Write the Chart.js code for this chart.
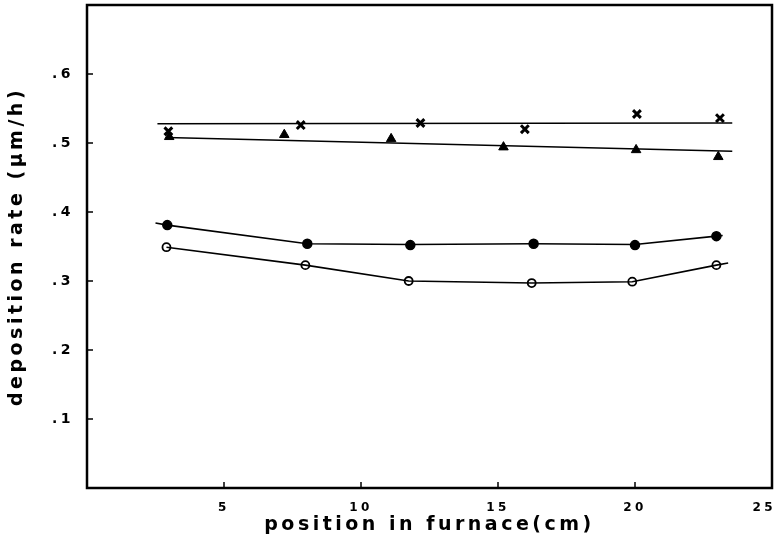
<!DOCTYPE html>
<html>
<head>
<meta charset="utf-8">
<script src="https://cdn.jsdelivr.net/npm/chart.js@4/dist/chart.umd.min.js"></script>
<style>
  html, body { margin: 0; padding: 0; background: #fff; }
  #wrap { width: 778px; height: 541px; }
</style>
</head>
<body>
<div id="wrap"><canvas id="grafico"></canvas></div>
<script>
// ticks
const xTicks = [5, 10, 15, 20, 25];
const yTicks = [0.1, 0.2, 0.3, 0.4, 0.5, 0.6];

// measured points (position cm, rate um/h)
const crossPts = [[2.97, 0.517], [7.8, 0.526], [12.17, 0.529], [15.98, 0.520], [20.07, 0.542], [23.1, 0.536]];
const triPts = [[3.0, 0.509], [7.2, 0.512], [11.1, 0.506], [15.2, 0.494], [20.04, 0.490], [23.04, 0.480]];
const dotPts = [[2.93, 0.381], [8.04, 0.354], [11.8, 0.352], [16.3, 0.354], [20.0, 0.352], [22.97, 0.365]];
const ringPts = [[2.9, 0.349], [7.97, 0.323], [11.74, 0.300], [16.23, 0.297], [19.9, 0.299], [22.97, 0.323]];

// drawn curves
const crossFit = [[2.57, 0.528], [23.55, 0.529]];
const triFit = [[2.9, 0.508], [23.55, 0.488]];
const dotCurve = [[2.5, 0.384], [2.93, 0.381], [8.04, 0.354], [11.8, 0.353], [16.3, 0.354], [20.0, 0.353], [22.97, 0.365], [23.2, 0.366]];
const ringCurve = [[2.9, 0.349], [7.97, 0.323], [11.74, 0.300], [16.23, 0.297], [19.9, 0.299], [22.97, 0.323], [23.4, 0.326]];

const FONT = 'DejaVu Sans';
const ESPACIO = '3.5px';

function xy(arr) {
  return arr.map(p => ({x: p[0], y: p[1]}));
}

function linea(arr) {
  return {
    type: 'line',
    data: xy(arr),
    borderColor: '#000',
    borderWidth: 1.6,
    pointRadius: 0,
    fill: false,
    tension: 0
  };
}

function puntos(arr, estilo, radio, relleno, borde) {
  return {
    type: 'scatter',
    data: xy(arr),
    pointStyle: estilo,
    pointRadius: radio,
    pointBackgroundColor: relleno,
    pointBorderColor: '#000',
    pointBorderWidth: borde
  };
}

// letter spacing for the wide lettering (canvas state is reset on resize)
const espaciado = {
  id: 'espaciado',
  beforeLayout(chart) { chart.ctx.letterSpacing = ESPACIO; },
  beforeDraw(chart) { chart.ctx.letterSpacing = ESPACIO; }
};

// caja y marcas hacia adentro
const marco = {
  id: 'marco',
  afterDraw(chart) {
    const ctx = chart.ctx;
    const a = chart.chartArea;
    const sx = chart.scales.x;
    const sy = chart.scales.y;
    ctx.save();
    ctx.strokeStyle = '#000';
    ctx.lineWidth = 2.5;
    ctx.strokeRect(a.left, a.top, a.right - a.left, a.bottom - a.top);
    ctx.lineWidth = 1.5;
    ctx.beginPath();
    xTicks.forEach(v => {
      if (v >= 25) return;
      const px = sx.getPixelForValue(v);
      ctx.moveTo(px, a.bottom);
      ctx.lineTo(px, a.bottom - 6);
    });
    yTicks.forEach(v => {
      const py = sy.getPixelForValue(v);
      ctx.moveTo(a.left, py);
      ctx.lineTo(a.left + 6, py);
    });
    ctx.stroke();
    ctx.restore();
  }
};

const ctx = document.getElementById('grafico').getContext('2d');

new Chart(ctx, {
  data: {
    datasets: [
      linea(crossFit),
      linea(triFit),
      linea(dotCurve),
      linea(ringCurve),
      puntos(crossPts, 'crossRot', 5.5, '#000', 3),
      puntos(triPts, 'triangle', 5.5, '#000', 1),
      puntos(dotPts, 'circle', 4.5, '#000', 1.5),
      puntos(ringPts, 'circle', 4, '#fff', 1.8)
    ]
  },
  options: {
    responsive: true,
    maintainAspectRatio: false,
    animation: false,
    events: [],
    layout: {
      autoPadding: false,
      padding: {top: 5, right: 6, left: 0, bottom: 0}
    },
    plugins: {
      legend: {display: false},
      tooltip: {enabled: false}
    },
    scales: {
      x: {
        type: 'linear',
        min: 0,
        max: 25,
        afterBuildTicks: s => { s.ticks = xTicks.map(v => ({value: v})); },
        afterFit: s => {
          s.height = 53;
          s.paddingLeft = 0;
          s.paddingRight = 0;
        },
        grid: {display: false, drawTicks: false},
        border: {display: false},
        ticks: {
          color: '#000',
          padding: 13,
          maxRotation: 0,
          font: {family: FONT, weight: 'bold', size: 12},
          // el 25 queda dentro del borde derecho
          callback: v => v === 25 ? '25  ' : String(v)
        },
        title: {
          display: true,
          text: 'position in furnace(cm)',
          color: '#000',
          padding: {top: 0, bottom: 5},
          font: {family: FONT, weight: 'bold', size: 19}
        }
      },
      y: {
        type: 'linear',
        min: 0,
        max: 0.7,
        afterBuildTicks: s => { s.ticks = yTicks.map(v => ({value: v})); },
        afterFit: s => {
          s.width = 87;
          s.paddingTop = 0;
          s.paddingBottom = 0;
        },
        grid: {display: false, drawTicks: false},
        border: {display: false},
        ticks: {
          color: '#000',
          padding: 13,
          font: {family: FONT, weight: 'bold', size: 14},
          callback: v => v.toFixed(1).replace('0.', '.')
        },
        title: {
          display: true,
          text: 'deposition rate (\u03bcm/h)',
          color: '#000',
          padding: {top: 6, bottom: 0},
          font: {family: FONT, weight: 'bold', size: 19}
        }
      }
    }
  },
  plugins: [espaciado, marco]
});
</script>
</body>
</html>
